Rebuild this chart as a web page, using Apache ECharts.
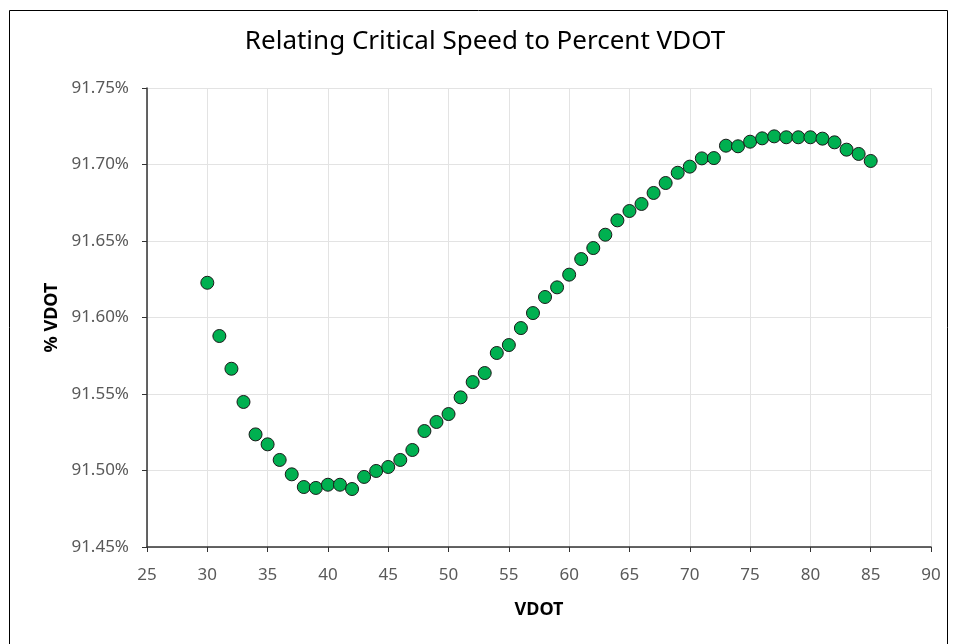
<!DOCTYPE html>
<html>
<head>
<meta charset="utf-8">
<script src="https://cdn.jsdelivr.net/npm/echarts@6/dist/echarts.min.js"></script>
<style>
html,body{margin:0;padding:0;background:#fff;}
#chart{width:956px;height:644px;}
</style>
</head>
<body>
<div id="chart"></div>
<script>
const vdot = [30,31,32,33,34,35,36,37,38,39,40,41,42,43,44,45,46,47,48,49,50,51,52,53,54,55,56,57,58,59,60,61,62,63,64,65,66,67,68,69,70,71,72,73,74,75,76,77,78,79,80,81,82,83,84,85];
const pctVdot = [91.6227,91.5879,91.5665,91.5448,91.5236,91.5171,91.5069,91.4975,91.4892,91.4886,91.4907,91.4907,91.4879,91.4958,91.4997,91.5023,91.5069,91.5134,91.5258,91.5317,91.5369,91.5478,91.5578,91.5637,91.5768,91.5820,91.5931,91.6029,91.6134,91.6197,91.6280,91.6382,91.6454,91.6541,91.6635,91.6696,91.6742,91.6814,91.6879,91.6946,91.6986,91.7040,91.7042,91.7123,91.7119,91.7149,91.7171,91.7184,91.7178,91.7178,91.7178,91.7169,91.7145,91.7097,91.7069,91.7023];
const xTicks = {min:25, max:90, interval:5};
const yTicks = {min:91.45, max:91.75, interval:0.05};

const chart = echarts.init(document.getElementById('chart'), null, {renderer:'canvas'});
const fontFam = '"Noto Sans", "Open Sans", sans-serif';
chart.setOption({
  animation:false,
  backgroundColor:'#fff',
  graphic:[{type:'rect', shape:{x:9.5,y:10.5,width:938,height:650}, style:{fill:'none', stroke:'#000', lineWidth:1}, silent:true}],
  title:{text:'Relating Critical Speed to Percent VDOT', left:485, textAlign:'center', top:29, padding:0,
    textStyle:{fontFamily:fontFam, fontSize:26, fontWeight:'normal', color:'#000'}},
  grid:{left:147, right:25, top:88, bottom:97},
  xAxis:{type:'value', min:xTicks.min, max:xTicks.max, interval:xTicks.interval,
    name:'VDOT', nameLocation:'middle', nameGap:54,
    nameTextStyle:{fontFamily:fontFam, fontSize:18, fontWeight:'bold', color:'#000'},
    axisLine:{show:true, onZero:false, lineStyle:{color:'#333', width:1.5}},
    axisTick:{show:true, length:5, lineStyle:{color:'#333'}},
    axisLabel:{fontFamily:fontFam, fontSize:17, color:'#595959', margin:20},
    splitLine:{show:true, lineStyle:{color:'#e3e3e3', width:1}}},
  yAxis:{type:'value', min:yTicks.min, max:yTicks.max, interval:yTicks.interval,
    name:'% VDOT', nameLocation:'middle', nameGap:86, nameRotate:90,
    nameTextStyle:{fontFamily:fontFam, fontSize:18, fontWeight:'bold', color:'#000'},
    axisLine:{show:true, onZero:false, lineStyle:{color:'#333', width:1.5}},
    axisTick:{show:true, length:5, lineStyle:{color:'#333'}},
    axisLabel:{fontFamily:fontFam, fontSize:17, color:'#595959', margin:18, formatter:v=>v.toFixed(2)+'%'},
    splitLine:{show:true, lineStyle:{color:'#e3e3e3', width:1}}},
  series:[{type:'scatter', symbol:'circle', symbolSize:13,
    data: vdot.map((x,i)=>[x,pctVdot[i]]),
    itemStyle:{color:'#00b050', borderColor:'#1a1a1a', borderWidth:1, opacity:1}}]
});
</script>
</body>
</html>
